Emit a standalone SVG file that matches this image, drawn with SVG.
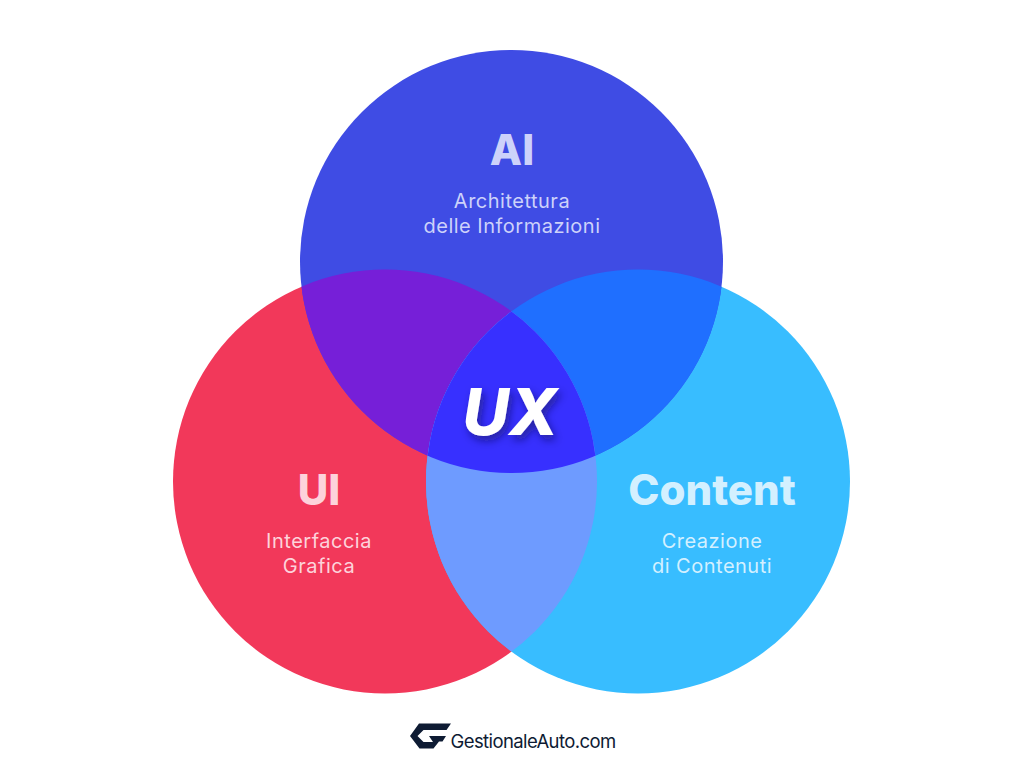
<svg xmlns="http://www.w3.org/2000/svg" width="1024" height="768" viewBox="0 0 1024 768">
<style>
.t{font-family:Inter,"Liberation Sans",sans-serif;text-anchor:middle}
.h{font-size:42px;font-weight:800}
.s{font-size:20px;font-weight:400;letter-spacing:.5px}
</style>
<defs>
<circle id="ca" cx="511.5" cy="261.5" r="211.5"/>
<circle id="cl" cx="385" cy="481.5" r="212"/>
<circle id="cr" cx="638" cy="481.5" r="212"/>
<clipPath id="pa"><use href="#ca"/></clipPath>
<clipPath id="pl"><use href="#cl"/></clipPath>
<clipPath id="pr"><use href="#cr"/></clipPath>
<filter id="sh" x="-30%" y="-30%" width="160%" height="170%"><feDropShadow dx="3" dy="5" stdDeviation="4" flood-color="#0a0a50" flood-opacity=".55"/></filter>
</defs>
<rect width="1024" height="768" fill="#fff"/>
<g id="node-ui"><use href="#cl" fill="#F2385A"/></g>
<g id="node-content"><use href="#cr" fill="#38BDFF"/></g>
<g id="node-ai"><use href="#ca" fill="#3F4CE4"/></g>
<g id="overlaps">
<g clip-path="url(#pa)"><use href="#cl" fill="#761FD8"/><use href="#cr" fill="#1F6FFF"/></g>
<g clip-path="url(#pl)"><use href="#cr" fill="#6E9BFF"/></g>
<g clip-path="url(#pa)"><g clip-path="url(#pl)"><use href="#cr" fill="#3730FF"/></g></g>
</g>
<g id="labels-ai" fill="#CDD2FA">
<text class="t h" x="512" y="164.500">AI</text>
<text class="t s" x="512" y="208">Architettura</text>
<text class="t s" x="512" y="233">delle Informazioni</text>
</g>
<g id="labels-ui" fill="#FDD3DB">
<text class="t h" x="319" y="504.500">UI</text>
<text class="t s" x="319" y="548">Interfaccia</text>
<text class="t s" x="319" y="573">Grafica</text>
</g>
<g id="labels-content" fill="#D3F0FF">
<text class="t h" x="712" y="504.500">Content</text>
<text class="t s" x="712" y="548">Creazione</text>
<text class="t s" x="712" y="573">di Contenuti</text>
</g>
<g id="node-ux"><text class="t" x="510" y="435" fill="#fff" font-size="64" font-weight="800" font-style="italic" filter="url(#sh)">UX</text></g>
<g id="logo" fill="#0E1B33">
<path d="M419 723.500H451L446.500 730H423.500L417.500 736L423.500 742H433L429 736H446L442.500 741.500H439L433.500 748.500H419.500L410 736Z"/>
<text x="450.500" y="748" font-family="Inter,'Liberation Sans',sans-serif" font-size="18.500" letter-spacing="-.6">GestionaleAuto.com</text>
</g>
</svg>
